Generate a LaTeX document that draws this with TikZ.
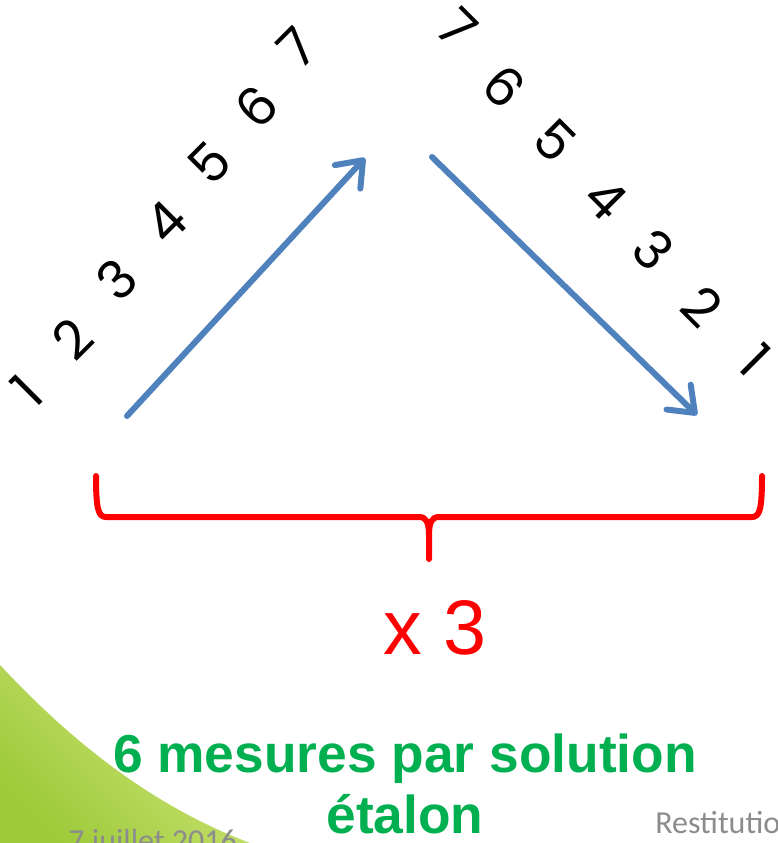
\documentclass[tikz,border=0pt]{standalone}
\usepackage{fontspec}
\setmainfont{Liberation Sans}
\newfontfamily\digitfont{Poppins}
\newfontfamily\calfont{Carlito}
\usetikzlibrary{arrows.meta}
\definecolor{arrowblue}{RGB}{79,129,189}
\definecolor{bracered}{RGB}{255,0,0}
\definecolor{titlegreen}{RGB}{0,176,80}
\definecolor{footgray}{RGB}{140,140,140}
\definecolor{greendark}{RGB}{158,202,58}
\definecolor{greenlight}{RGB}{212,232,128}
\begin{document}
\begin{tikzpicture}[x=0.75pt,y=-0.75pt,
  digitup/.style={font=\digitfont\fontsize{40}{40}\selectfont, rotate=45, inner sep=0pt},
  digitdown/.style={font=\digitfont\fontsize{40}{40}\selectfont, rotate=-45, inner sep=0pt},
  flowarrow/.style={draw=arrowblue, line width=4.5pt, line cap=round,
    -{Straight Barb[length=17pt,width=26pt,round]}},
  bracestyle/.style={draw=bracered, line width=4.5pt, line cap=round, line join=round},
  titletext/.style={font=\bfseries\fontsize{40}{40}\selectfont, text=titlegreen, inner sep=0pt},
  foottext/.style={font=\calfont\fontsize{24}{24}\selectfont, text=footgray, inner sep=0pt}]
\useasboundingbox (0,0) rectangle (778,843);
\fill[white] (0,0) rectangle (778,843);
% green corner shape
\shade[top color=greenlight, bottom color=greendark, shading angle=-45]
  (0,665) .. controls (70,740) and (150,805) .. (250,843) -- (0,843) -- cycle;
% left digits
\node[digitup] (l1) at (27,391) {1};
\node[digitup] (l2) at (72,339) {2};
\node[digitup] (l3) at (117,280) {3};
\node[digitup] (l4) at (166,222) {4};
\node[digitup] (l5) at (210,163) {5};
\node[digitup] (l6) at (257,107) {6};
\node[digitup] (l7) at (297,48) {7};
% right digits
\node[digitdown] (r7) at (457,28) {7};
\node[digitdown] (r6) at (504,87) {6};
\node[digitdown] (r5) at (555,141) {5};
\node[digitdown] (r4) at (606,199) {4};
\node[digitdown] (r3) at (653,250) {3};
\node[digitdown] (r2) at (702,306) {2};
\node[digitdown] (r1) at (755,360) {1};
% arrows
\coordinate (upstart) at (127,416);
\coordinate (uptip) at (365,158);
\coordinate (downstart) at (432,157);
\coordinate (downtip) at (697,415);
\draw[flowarrow] (upstart) -- (uptip);
\draw[flowarrow] (downstart) -- (downtip);
% brace
\coordinate (bl) at (96,476);
\coordinate (br) at (762,476);
\coordinate (bt) at (429,559);
\draw[bracestyle] (bl) .. controls (96,508) and (98,517) .. (106,517) -- (419,517)
  .. controls (426,517) and (429,522) .. (429,535) -- (bt);
\draw[bracestyle] (br) .. controls (762,508) and (760,517) .. (752,517) -- (439,517)
  .. controls (432,517) and (429,522) .. (429,535);
% x 3
\node[font=\fontsize{58}{58}\selectfont, text=bracered, anchor=base, inner sep=0pt] (times) at (435,654) {x 3};
% title
\node[titletext, anchor=base] (title1) at (405,772) {6 mesures par solution};
\node[titletext, anchor=base] (title2) at (405,833) {étalon};
% footer
\node[foottext, anchor=base west] (date) at (68,851) {7 juillet 2016};
\node[foottext, anchor=base west] (rest) at (655,833) {Restitutio};
\end{tikzpicture}
\end{document}
